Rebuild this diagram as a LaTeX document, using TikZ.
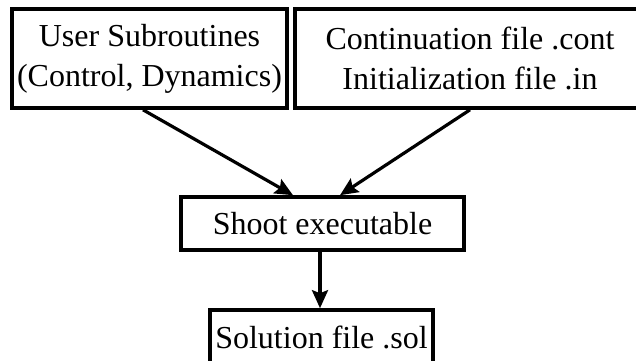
\documentclass[tikz,border=0pt]{standalone}
\usepackage{fontspec}
\setmainfont{Liberation Serif}
\usetikzlibrary{arrows.meta,calc}
\tikzset{
  box/.style={draw=black, line width=1.8pt, fill=white, align=center, inner sep=0pt,
    font=\fontsize{16pt}{20pt}\selectfont},
  conn/.style={line width=1.6pt, -{Stealth[length=9pt,width=8pt,inset=1.5pt]}}
}
\begin{document}
\begin{tikzpicture}[x=0.5pt,y=-0.5pt]
\useasboundingbox (0,0) rectangle (636,360);
\clip (0,0) rectangle (636,360);
\node[box, minimum width=137.5pt, minimum height=49.5pt] (b1) at (149.5,58.5) {User Subroutines\\(Control, Dynamics)};
\node[box, minimum width=175pt, minimum height=49.5pt] (b2) at (470,58.5) {Continuation file .cont\\Initialization file .in};
\node[box, minimum width=141.5pt, minimum height=26.5pt] (b3) at (322.5,223.5) {Shoot executable};
\node[box, minimum width=111.5pt, minimum height=27pt] (b4) at (321.5,337) {Solution file .sol};
\draw[conn] ([xshift=-3.25pt]b1.south) -- ([xshift=-14.75pt]b3.north);
\draw[conn] (b2.south) -- ([xshift=8.75pt]b3.north);
\draw[conn] ([xshift=-1.25pt]b3.south) -- ([xshift=-1.25pt]b3.south |- b4.north);
\end{tikzpicture}
\end{document}
